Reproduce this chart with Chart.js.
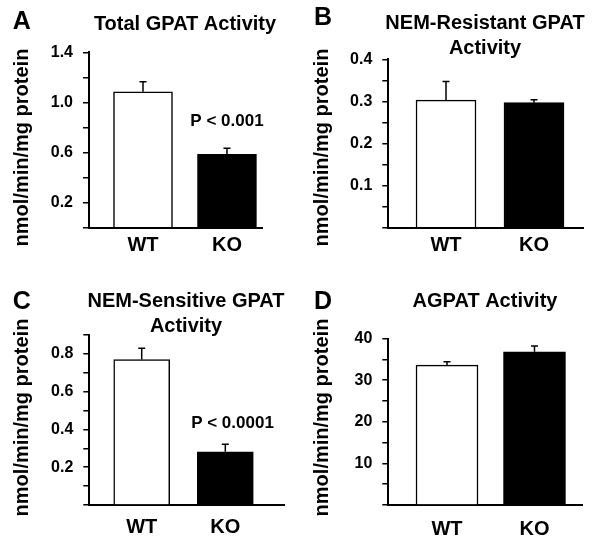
<!DOCTYPE html>
<html>
<head>
<meta charset="utf-8">
<script src="https://cdn.jsdelivr.net/npm/chart.js@4.4.1/dist/chart.umd.min.js"></script>
<style>
  body { margin: 0; background: #fff; }
  #wrap { position: relative; width: 600px; height: 543px; }
  #wrap canvas { position: absolute; }
</style>
</head>
<body>
<div id="wrap">
  <canvas id="panel-a" width="300" height="270" style="left:0;top:0"></canvas>
  <canvas id="panel-b" width="300" height="270" style="left:300px;top:0"></canvas>
  <canvas id="panel-c" width="300" height="273" style="left:0;top:270px"></canvas>
  <canvas id="panel-d" width="300" height="273" style="left:300px;top:270px"></canvas>
</div>
<script>
const groups = ['WT', 'KO'];
const yTitle = 'nmol/min/mg protein';

const totalGpat = [1.085, 0.585];
const totalGpatErr = [0.08, 0.05];
const totalGpatTicks = ['0.2', '0.6', '1.0', '1.4'];

const resistantGpat = [0.303, 0.297];
const resistantGpatErr = [0.044, 0.007];
const resistantGpatTicks = ['0.1', '0.2', '0.3', '0.4'];

const sensitiveGpat = [0.77, 0.282];
const sensitiveGpatErr = [0.06, 0.039];
const sensitiveGpatTicks = ['0.2', '0.4', '0.6', '0.8'];

const agpat = [33.6, 36.8];
const agpatErr = [0.8, 1.4];
const agpatTicks = ['10', '20', '30', '40'];

const FONT = '"Liberation Sans", Arial, sans-serif';

const panels = [
    {
        id: 'panel-a', letter: 'A', letterPos: [21.7, 22.5], title: ['Total GPAT Activity'], titlePos: [185, 24],
        values: totalGpat, errors: totalGpatErr, tickLabels: totalGpatTicks,
        yMax: 1.4, step: 0.2, xMin: 0.357, xMax: 2.417, barWidth: 59, xPad: 6,
        pad: { left: 39, right: 38, top: 52.3, bottom: 12.3 },
        pValue: { text: 'P < 0.001', x: 2, y: 0.85 }
    },
    {
        id: 'panel-b', letter: 'B', letterPos: [23, 18.5], title: ['NEM-Resistant GPAT', 'Activity'], titlePos: [185, 23.5],
        values: resistantGpat, errors: resistantGpatErr, tickLabels: resistantGpatTicks,
        yMax: 0.4, step: 0.05, xMin: 0.344, xMax: 2.557, barWidth: 60, xPad: 6,
        pad: { left: 38.3, right: 17, top: 59.3, bottom: 12.3 },
        pValue: null
    },
    {
        id: 'panel-c', letter: 'C', letterPos: [21.7, 32], title: ['NEM-Sensitive GPAT', 'Activity'], titlePos: [186, 31.5],
        values: sensitiveGpat, errors: sensitiveGpatErr, tickLabels: sensitiveGpatTicks,
        yMax: 0.9, step: 0.1, xMin: 0.373, xMax: 2.702, barWidth: 56, xPad: 10,
        pad: { left: 39.3, right: 16, top: 65, bottom: 8 },
        pValue: { text: 'P < 0.0001', x: 2.086, y: 0.434 }
    },
    {
        id: 'panel-d', letter: 'D', letterPos: [23, 32], title: ['AGPAT Activity'], titlePos: [185, 31.7],
        values: agpat, errors: agpatErr, tickLabels: agpatTicks,
        yMax: 40, step: 5, xMin: 0.329, xMax: 2.543, barWidth: 62, xPad: 12,
        pad: { left: 38.3, right: 18, top: 68.5, bottom: 8 },
        pValue: null
    }
];

// upper error whiskers with a small cap
const errorBars = {
    id: 'errorBars',
    afterDatasetsDraw(chart, args, opts) {
        const { ctx } = chart;
        const y = chart.scales.y;
        const ds = chart.data.datasets[0];
        ctx.save();
        ctx.strokeStyle = '#000';
        ctx.lineWidth = 1.5;
        chart.getDatasetMeta(0).data.forEach((bar, i) => {
            const top = y.getPixelForValue(ds.data[i].y + opts.errors[i]);
            ctx.beginPath();
            ctx.moveTo(bar.x, bar.y);
            ctx.lineTo(bar.x, top);
            ctx.moveTo(bar.x - 3.5, top);
            ctx.lineTo(bar.x + 3.5, top);
            ctx.stroke();
        });
        ctx.restore();
    }
};

// panel letter, title, y title and p value
const panelText = {
    id: 'panelText',
    afterDraw(chart, args, opts) {
        const { ctx } = chart;
        ctx.save();
        ctx.fillStyle = '#000';
        ctx.textAlign = 'center';
        ctx.textBaseline = 'middle';

        ctx.font = 'bold 25px ' + FONT;
        ctx.fillText(opts.letter, opts.letterPos[0], opts.letterPos[1]);

        ctx.font = 'bold 20px ' + FONT;
        opts.title.forEach((line, i) => ctx.fillText(line, opts.titlePos[0], opts.titlePos[1] + i * 25));

        ctx.save();
        ctx.translate(22.5, 147.5);
        ctx.rotate(-Math.PI / 2);
        ctx.fillText(yTitle, 0, 0);
        ctx.restore();

        if (opts.pValue) {
            ctx.font = 'bold 17px ' + FONT;
            ctx.fillText(opts.pValue.text,
                chart.scales.x.getPixelForValue(opts.pValue.x),
                chart.scales.y.getPixelForValue(opts.pValue.y));
        }
        ctx.restore();
    }
};

panels.forEach(p => {
    const ctx = document.getElementById(p.id).getContext('2d');
    new Chart(ctx, {
        type: 'bar',
        data: {
            datasets: [{
                data: p.values.map((v, i) => ({ x: i + 1, y: v })),
                backgroundColor: ['#ffffff', '#000000'],
                borderColor: '#000',
                borderWidth: 1.5,
                barThickness: p.barWidth
            }]
        },
        options: {
            responsive: false,
            animation: false,
            layout: { padding: p.pad },
            plugins: {
                legend: { display: false },
                tooltip: { enabled: false },
                errorBars: { errors: p.errors },
                panelText: { letter: p.letter, letterPos: p.letterPos, title: p.title, titlePos: p.titlePos, pValue: p.pValue }
            },
            scales: {
                x: {
                    type: 'linear',
                    offset: false,
                    min: p.xMin, max: p.xMax,
                    afterBuildTicks: (s) => { s.ticks = groups.map((g, i) => ({ value: i + 1 })); },
                    afterFit: (s) => { s.height = 30; },
                    grid: { display: false, drawTicks: false },
                    border: { display: true, color: '#000', width: 2 },
                    ticks: {
                        autoSkip: false, maxRotation: 0,
                        padding: p.xPad,
                        color: '#000',
                        font: { family: FONT, size: 20, weight: 'bold' },
                        callback: (v) => groups[Math.round(v) - 1] || ''
                    }
                },
                y: {
                    min: 0, max: p.yMax,
                    afterFit: (s) => { s.width = 50; },
                    grid: { drawOnChartArea: false, drawTicks: true, tickLength: 6, color: '#000', lineWidth: 1.5 },
                    border: { color: '#000', width: 2 },
                    ticks: {
                        autoSkip: false,
                        stepSize: p.step,
                        padding: 10,
                        color: '#000',
                        font: { family: FONT, size: 16, weight: 'bold' },
                        callback: (v) => p.tickLabels.find(t => Math.abs(parseFloat(t) - v) < 1e-6) || ''
                    }
                }
            }
        },
        plugins: [errorBars, panelText]
    });
});
</script>
</body>
</html>
